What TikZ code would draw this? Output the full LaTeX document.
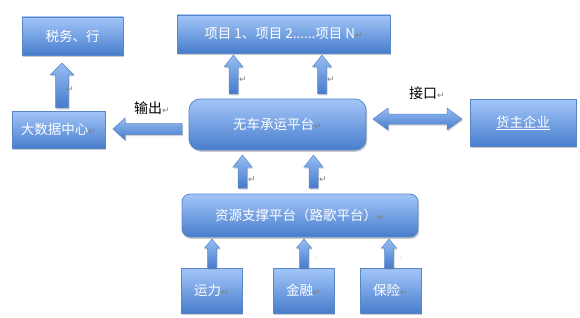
\documentclass[tikz,border=0pt]{standalone}
\usepackage{fontspec}
\newfontfamily\cjk{Noto Sans CJK SC}
\newfontfamily\djv{DejaVu Sans}
\usetikzlibrary{shadows}
\definecolor{boxtop}{RGB}{163,198,248}
\definecolor{boxbot}{RGB}{72,125,205}
\definecolor{boxline}{RGB}{88,135,200}
\definecolor{arrtop}{RGB}{150,190,242}
\definecolor{arrbot}{RGB}{70,122,205}
\newcommand\ret{{\djv\color{gray}\fontsize{9}{9}\selectfont ↵}}
\newcommand\upblock[6]{% cx, ytip, ybottom, headhalf, shafthalf, headlen
  \path[arrowshape] (#1,#2) -- (#1+#4,#2+#6) -- (#1+#5,#2+#6) -- (#1+#5,#3) -- (#1-#5,#3) -- (#1-#5,#2+#6) -- (#1-#4,#2+#6) -- cycle;}
\tikzset{
  box/.style={draw=boxline, line width=0.8pt, top color=boxtop, bottom color=boxbot,
    text=white, font=\cjk\fontsize{13.5}{15}\selectfont, inner sep=0pt,
    drop shadow={shadow xshift=1.2pt, shadow yshift=-1.8pt, opacity=0.35, fill=black!60}},
  arrowshape/.style={draw=boxline, line width=0.5pt, top color=arrtop, bottom color=arrbot,
    drop shadow={shadow xshift=1pt, shadow yshift=-1.5pt, opacity=0.3, fill=black!60}},
  lab/.style={font=\cjk\fontsize{14}{15}\selectfont, text=black, inner sep=0pt},
  retmark/.style={inner sep=0pt}
}
\begin{document}
\begin{tikzpicture}[x=1pt,y=-1pt]
\useasboundingbox (0,0) rectangle (580,318);
% boxes
\node[box, minimum width=101pt, minimum height=38pt] (tax) at (72.5,36) {税务、行};
\node[box, minimum width=213pt, minimum height=38pt] (proj) at (283.5,34) {项目 1、项目 2......项目 N\ret};
\node[box, minimum width=93pt, minimum height=37pt] (big) at (58.5,129.5) {大数据中心\ret};
\node[box, rounded corners=11pt, minimum width=177pt, minimum height=51pt] (wuche) at (277.5,124.5) {无车承运平台\ret};
\node[box, minimum width=106pt, minimum height=47pt] (owner) at (523,123) {\underline{货主企业}};
\node[box, rounded corners=8pt, minimum width=236pt, minimum height=43pt] (res) at (300,215.5) {资源支撑平台（路歌平台）\ret};
\node[box, minimum width=61pt, minimum height=45pt] (yunli) at (211.5,290.5) {运力\ret};
\node[box, minimum width=61pt, minimum height=45pt] (jinrong) at (303.5,290.5) {金融\ret};
\node[box, minimum width=61pt, minimum height=45pt] (baoxian) at (390.5,290.5) {保险\ret};
% block arrows up
\upblock{62}{63}{108}{12}{6.5}{12}
\upblock{233.5}{55}{94}{9.5}{4.5}{12}
\upblock{322}{55}{94}{9.5}{4.5}{12}
\upblock{242.5}{155}{188}{9.5}{4.5}{12}
\upblock{313.5}{155}{188}{9.5}{4.5}{12}
\upblock{212}{239}{268}{7.5}{4.5}{9}
\upblock{304}{239}{268}{7.5}{4.5}{9}
\upblock{389}{239}{268}{7.5}{4.5}{9}
% left arrow (output)
\path[arrowshape] (113,129) -- (125,118) -- (125,123.5) -- (182,123.5) -- (182,134.5) -- (125,134.5) -- (125,140) -- cycle;
% double arrow (interface)
\path[arrowshape] (373,119) -- (388,108) -- (388,114) -- (447,114) -- (447,108) -- (462,119) -- (447,130) -- (447,124) -- (388,124) -- (388,130) -- cycle;
% labels
\node[lab] (out) at (152,108) {输出\ret};
\node[lab] (intf) at (427,93) {接口\ret};
% return marks beside arrows
\node[retmark] (r1) at (70,90) {\ret};
\node[retmark] (r2) at (243,80) {\ret};
\node[retmark] (r3) at (331,80) {\ret};
\node[retmark] (r4) at (252,180) {\ret};
\node[retmark] (r5) at (323,180) {\ret};
\node[retmark, text=gray, font=\tiny] (t1) at (224,260) {'};
\node[retmark, text=gray, font=\tiny] (t2) at (316,260) {'};
\node[retmark, text=gray, font=\tiny] (t3) at (401,260) {'};
\end{tikzpicture}
\end{document}
